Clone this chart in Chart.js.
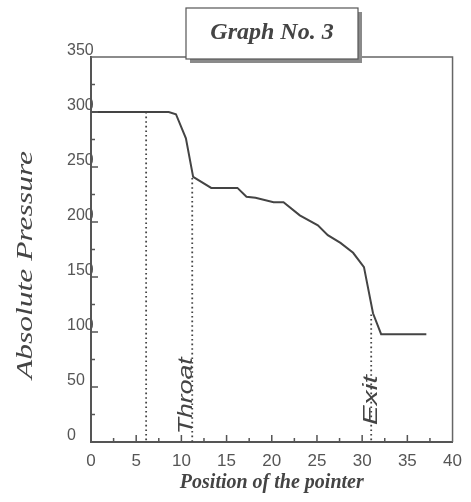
<!DOCTYPE html>
<html>
<head>
<meta charset="utf-8">
<script src="https://cdn.jsdelivr.net/npm/chart.js@4.4.1/dist/chart.umd.min.js"></script>
<style>
    html, body { margin: 0; padding: 0; background: #fff; }
    #wrap { width: 471px; height: 502px; }
</style>
</head>
<body>
<div id="wrap"><canvas id="chart"></canvas></div>
<script>
// Pressure along the nozzle
const positions = [0, 8.6, 9.4, 10.5, 11.3, 13.3, 16.2, 17.2, 18.2, 20.2, 21.3, 23.1, 25.1, 26.2, 27.6, 29.0, 30.2, 31.2, 32.1, 37.1];
const pressures = [300, 300, 298, 276, 241, 231, 231, 223, 222, 218, 218, 206, 197, 188, 181, 172, 159, 117, 98, 98];

// Dotted reference lines and their labels
const markerPositions = [6.1, 11.2, 31];
const markerTops = [300, 240, 116];
const markerLabels = ['', 'Throat', 'Exit'];
const markerLabelAt = [[0, 0], [10.5, 42], [31.0, 38]];

const xTicks = [0, 5, 10, 15, 20, 25, 30, 35, 40];
const yTicks = [0, 50, 100, 150, 200, 250, 300, 350];

const chartTitle = 'Graph No. 3';
const xTitle = 'Position of the pointer';
const yTitle = 'Absolute Pressure';

const ink = '#444';

function stretchedText(ctx, text, x, y, font, length) {
    ctx.save();
    ctx.font = font;
    const w = ctx.measureText(text).width;
    ctx.translate(x, y);
    ctx.rotate(-Math.PI / 2);
    ctx.scale(length / w, 1);
    ctx.textAlign = 'center';
    ctx.textBaseline = 'middle';
    ctx.fillStyle = ink;
    ctx.fillText(text, 0, 0);
    ctx.restore();
}

// frame, inward ticks, rotated labels and the boxed title
const decorations = {
    id: 'decorations',
    afterDraw(chart) {
        const { ctx, chartArea: a, scales: { x, y } } = chart;

        ctx.save();
        ctx.strokeStyle = '#666';
        ctx.lineWidth = 1.5;
        ctx.beginPath();
        ctx.moveTo(a.left, a.top);
        ctx.lineTo(a.right, a.top);
        ctx.lineTo(a.right, a.bottom);
        ctx.stroke();

        ctx.strokeStyle = '#555';
        ctx.lineWidth = 1.5;
        ctx.beginPath();
        for (let v = 2.5; v < 40; v += 2.5) {
            const px = x.getPixelForValue(v);
            const len = v % 5 === 0 ? 7 : 4;
            ctx.moveTo(px, a.bottom);
            ctx.lineTo(px, a.bottom - len);
        }
        for (let v = 25; v < 350; v += 25) {
            const py = y.getPixelForValue(v);
            const len = v % 50 === 0 ? 7 : 4;
            ctx.moveTo(a.left, py);
            ctx.lineTo(a.left + len, py);
        }
        ctx.stroke();
        ctx.restore();

        // Throat / Exit
        markerLabels.forEach((txt, i) => {
            if (!txt) return;
            const px = x.getPixelForValue(markerLabelAt[i][0]);
            const py = y.getPixelForValue(markerLabelAt[i][1]);
            stretchedText(ctx, txt, px, py, 'italic 21px "Liberation Sans"', i === 1 ? 77 : 50);
        });

        // y axis title
        stretchedText(ctx, yTitle, 26, 265, 'italic 23px "Liberation Serif"', 228);

        // title box with shadow
        ctx.save();
        ctx.fillStyle = '#8a8a8a';
        ctx.fillRect(190, 12, 172, 51);
        ctx.fillStyle = '#fff';
        ctx.fillRect(186, 8, 172, 51);
        ctx.strokeStyle = '#555';
        ctx.lineWidth = 1.2;
        ctx.strokeRect(186, 8, 172, 51);
        ctx.font = 'italic bold 24px "Liberation Serif"';
        ctx.fillStyle = ink;
        ctx.textAlign = 'center';
        ctx.textBaseline = 'middle';
        ctx.fillText(chartTitle, 272, 33);
        ctx.restore();
    }
};

const datasets = [{
    data: positions.map((p, i) => ({ x: p, y: pressures[i] })),
    borderColor: ink,
    borderWidth: 2,
    pointRadius: 0,
    tension: 0
}];
markerPositions.forEach((p, i) => {
    datasets.push({
        data: [{ x: p, y: markerTops[i] }, { x: p, y: 0 }],
        borderColor: '#444',
        borderWidth: 1.8,
        borderDash: [1.6, 3],
        pointRadius: 0
    });
});

new Chart(document.getElementById('chart'), {
    type: 'line',
    data: { datasets },
    options: {
        responsive: true,
        maintainAspectRatio: false,
        animation: false,
        devicePixelRatio: 1,
        layout: { padding: { top: 57, right: 7, left: 0, bottom: 0 } },
        plugins: { legend: { display: false }, tooltip: { enabled: false } },
        scales: {
            x: {
                type: 'linear',
                min: 0,
                max: 40,
                afterBuildTicks: s => { s.ticks = xTicks.map(v => ({ value: v })); },
                afterFit: s => { s.height = 60; },
                grid: { display: false, drawTicks: false },
                border: { color: '#555', width: 2 },
                ticks: { color: '#555', padding: 9, font: { family: 'Liberation Sans', size: 17 } },
                title: {
                    display: true,
                    text: xTitle,
                    color: ink,
                    font: { family: 'Liberation Serif', size: 20, style: 'italic', weight: 'bold' },
                    padding: { top: 0, bottom: 7 }
                }
            },
            y: {
                type: 'linear',
                min: 0,
                max: 350,
                afterBuildTicks: s => { s.ticks = yTicks.map(v => ({ value: v })); },
                afterFit: s => { s.width = 91; },
                grid: { display: false, drawTicks: false },
                border: { color: '#555', width: 2 },
                // mirrored so the labels may run over the axis line, as in the scan
                ticks: { color: '#555', mirror: true, padding: -24, labelOffset: -6, font: { family: 'Liberation Sans', size: 16 } }
            }
        }
    },
    plugins: [decorations]
});
</script>
</body>
</html>
